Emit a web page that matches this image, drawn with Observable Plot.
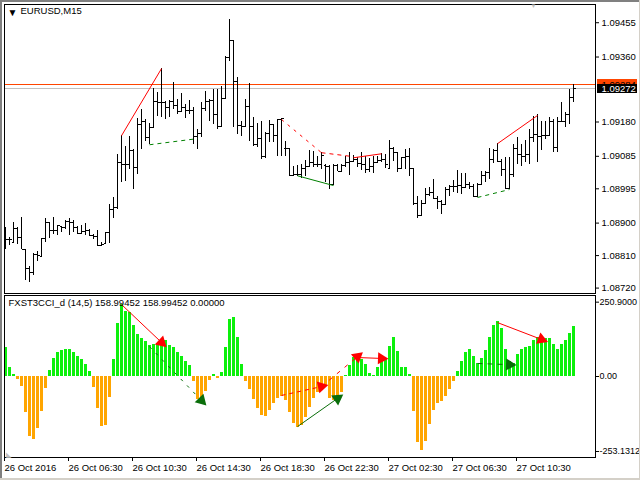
<!DOCTYPE html>
<html><head><meta charset="utf-8">
<script src="https://cdn.jsdelivr.net/npm/d3@7"></script>
<script src="https://cdn.jsdelivr.net/npm/@observablehq/plot@0.6"></script>
<style>
html,body{margin:0;padding:0;background:#fff;width:640px;height:480px;overflow:hidden}
#wrap{position:relative;width:640px;height:480px;overflow:hidden}
.edge{position:absolute}
</style></head><body><div id="wrap"></div>
<script>
// Prices are stored as points above 1.08000 (1 point = 0.00001)
const base = 1.08;
const highs = [
887,860,901,887,915,827,779,815,821,857,
912,901,915,893,890,907,912,907,890,893,
899,882,868,879,846,874,951,971,1090,1142,
1112,1139,1104,1189,1214,1187,1176,1272,1261,1328,
1236,1239,1289,1242,1259,1228,1239,1220,1159,1234,
1264,1242,1270,1270,1278,1361,1464,1403,1303,1181,
1242,1286,1192,1176,1181,1151,1184,1173,1187,1189,
1126,1106,1056,1059,1062,1073,1101,1098,1084,1095,
1062,1059,1062,1062,1062,1084,1095,1087,1081,1095,
1084,1079,1084,1084,1092,1090,1128,1109,1095,1081,
1104,1106,1051,973,962,995,998,1020,973,962,
998,1004,1018,1045,1037,1037,1012,1007,1009,1043,
1043,1106,1104,1120,1076,1081,1081,1117,1137,1117,
1128,1159,1195,1200,1181,1181,1192,1187,1192,1234,
1206,1270,1284];
const lows = [
827,838,843,840,827,741,735,754,793,807,
846,857,868,865,874,882,865,874,868,868,
865,863,854,835,835,840,843,912,937,1012,
1015,1048,993,1034,1104,1126,1117,1164,1195,1192,
1187,1192,1214,1200,1206,1189,1200,1117,1104,1137,
1209,1181,1173,1159,1167,1242,1347,1164,1145,1139,
1167,1126,1112,1109,1076,1079,1123,1123,1084,1084,
1084,1029,1029,1029,1023,1029,1054,1054,1054,1048,
1012,993,1004,1043,1040,1054,1031,1067,1054,1045,
1037,1040,1037,1067,1067,1051,1051,1070,1040,1048,
1048,1029,948,912,918,951,973,965,937,923,
951,973,984,982,979,995,993,971,971,1007,
1012,1020,1065,1067,1029,993,993,1026,1062,1056,
1067,1062,1123,1067,1101,1131,1139,1095,1095,1178,
1164,1173,1234];
const opens = [
854,854,846,885,860,827,774,763,813,807,
857,901,879,879,890,887,904,901,887,871,
876,879,865,863,838,843,874,937,943,1067,
1062,1062,1101,1054,1173,1181,1137,1164,1236,1234,
1234,1220,1236,1225,1209,1220,1212,1212,1139,1148,
1217,1236,1239,1200,1167,1245,1358,1405,1292,1170,
1167,1223,1167,1117,1134,1084,1148,1173,1142,1187,
1106,1106,1031,1034,1034,1051,1056,1067,1062,1062,
1059,1056,1007,1059,1043,1059,1067,1070,1076,1065,
1062,1048,1056,1067,1073,1076,1051,1106,1095,1051,
1081,1084,1051,954,921,954,979,984,968,960,
951,993,1001,1001,1004,998,1007,1001,973,1007,
1031,1040,1076,1101,1070,1048,995,1034,1106,1090,
1084,1090,1137,1145,1139,1142,1142,1181,1109,1181,
1181,1200,1248];
const closes = [
854,854,885,860,827,774,763,813,810,857,
901,879,879,893,887,904,901,887,871,876,
879,865,863,838,840,874,937,943,1067,1062,
1062,1101,1054,1173,1181,1137,1164,1236,1234,1234,
1220,1236,1225,1209,1220,1212,1212,1139,1148,1217,
1236,1239,1200,1167,1245,1358,1405,1292,1170,1167,
1223,1167,1117,1134,1084,1148,1173,1142,1187,1189,
1106,1031,1034,1034,1051,1056,1067,1062,1062,1087,
1056,1007,1059,1043,1059,1067,1070,1076,1065,1062,
1048,1056,1067,1073,1076,1062,1106,1095,1051,1081,
1084,1051,954,921,954,979,984,968,960,951,
993,1001,1001,1004,998,1007,1001,973,1007,1031,
1040,1076,1101,1070,1048,995,1034,1106,1090,1084,
1090,1137,1145,1139,1142,1142,1181,1109,1181,1181,
1200,1248,1272];
const cci = [
98,30,7,-10,-34,-121,-202,-212,-175,-118,
-40,20,61,81,88,91,91,81,67,57,
40,17,-37,-108,-169,-165,-71,57,179,243,
219,216,172,142,128,118,104,108,111,115,
121,104,98,81,67,51,37,-17,-78,-91,
-51,-13,7,-7,13,98,192,199,131,40,
-17,-44,-78,-108,-131,-135,-115,-91,-74,-67,
-81,-121,-158,-172,-165,-138,-104,-74,-54,-47,
-30,-74,-81,-84,-54,3,37,64,71,57,
40,10,3,30,64,61,101,131,84,30,
30,7,-118,-222,-249,-219,-162,-115,-91,-84,
-67,-44,-17,17,51,81,91,67,44,61,
88,131,172,185,162,91,51,44,74,91,
98,101,121,131,131,128,128,108,91,108,
121,145,169];

const priceTicks = [1.09455,1.09360,1.09180,1.09085,1.08995,1.08900,1.08810,1.08720];
const askPrice = 1.09284, bidPrice = 1.09272;
const timeTickBars = [0,16,32,48,64,80,96,112,128];
const timeLabels = ["26 Oct 2016","26 Oct 06:30","26 Oct 10:30","26 Oct 14:30","26 Oct 18:30","26 Oct 22:30","27 Oct 02:30","27 Oct 06:30","27 Oct 10:30"];
const cciTicks = [250.9,0,-253.1312];
const cciTickLabels = ["250.9000","0.00","-253.1312"];

// trend lines on the price panel: bar index and price
const priceTrends = [
 {x1:29,y1:1.09142,x2:39,y2:1.09328,c:"#ff0000",d:null},
 {x1:36,y1:1.09117,x2:48,y2:1.09134,c:"#008000",d:"4,4"},
 {x1:69,y1:1.09187,x2:79,y2:1.09095,c:"#ff0000",d:"3,5"},
 {x1:79,y1:1.09095,x2:87,y2:1.09084,c:"#ff0000",d:"4,4"},
 {x1:87,y1:1.09081,x2:94,y2:1.09092,c:"#ff0000",d:null},
 {x1:73,y1:1.09031,x2:82,y2:1.09004,c:"#008000",d:null},
 {x1:123,y1:1.09120,x2:133,y2:1.09198,c:"#ff0000",d:null},
 {x1:118,y1:1.08971,x2:126,y2:1.08993,c:"#008000",d:"4,4"}
];
// arrows on the oscillator panel: bar index and oscillator value
const darkGreen = "#0a6e0a";
const cciArrows = [
 {x1:29,y1:243,x2:39,y2:115,c:"#ff0000",d:null},
 {x1:36,y1:101,x2:49,y2:-81,c:darkGreen,d:"3,6"},
 {x1:69,y1:-64,x2:79,y2:-34,c:"#ff0000",d:"4,4"},
 {x1:79,y1:-34,x2:88,y2:67,c:"#ff0000",d:"4,6"},
 {x1:88,y1:64,x2:94,y2:61,c:"#ff0000",d:null},
 {x1:73,y1:-169,x2:83,y2:-74,c:darkGreen,d:null},
 {x1:123,y1:182,x2:134,y2:125,c:"#ff0000",d:null},
 {x1:118,y1:44,x2:126,y2:40,c:darkGreen,d:"5,5"}
];

const bars = highs.map((h,i)=>({i,h:base+h/1e5,l:base+lows[i]/1e5,o:base+opens[i]/1e5,c:base+closes[i]/1e5}));
const hist = cci.map((v,i)=>({i,v}));

const fontStyle = {fontFamily:"'Liberation Sans',Arial,sans-serif",fontSize:"9.5px",color:"#000",background:"#fff",position:"absolute",left:"0",overflow:"hidden"};
const xScale = {domain:[-0.25,147.5],axis:null};
const crisp = {shapeRendering:"crispEdges"};

// direction of an arrow head on screen: one bar is 4 wide, one oscillator unit about 0.296 tall
const headAngle = a => Math.atan2((a.x2-a.x1)*4,(a.y2-a.y1)*0.296)*180/Math.PI;

const pricePlot = Plot.plot({
  width:640,height:294,marginLeft:4,marginRight:45,marginTop:4,marginBottom:1,
  style:{...fontStyle,top:"0"},
  x:xScale,
  y:{domain:[1.08705,1.095055],axis:null},
  marks:[
    Plot.ruleY([bidPrice],{stroke:"#c0c0c0",...crisp}),
    Plot.ruleY([askPrice],{stroke:"#ff4500",...crisp}),
    Plot.ruleX(bars,{x:"i",y1:"l",y2:"h",stroke:"#000",...crisp}),
    Plot.link(bars,{x1:d=>d.i-0.5,x2:"i",y1:"o",y2:"o",stroke:"#000",...crisp}),
    Plot.link(bars,{x1:"i",x2:d=>d.i+0.5,y1:"c",y2:"c",stroke:"#000",...crisp}),
    ...priceTrends.map(t=>Plot.link([t],{x1:"x1",y1:"y1",x2:"x2",y2:"y2",stroke:"c",strokeWidth:1,strokeDasharray:t.d})),
    Plot.frame({stroke:"#000"}),
    Plot.axisY({anchor:"right",ticks:priceTicks,tickFormat:d3.format(".5f"),tickSize:3,tickPadding:3,label:null,stroke:"#000"}),
    Plot.ruleY([askPrice],{x1:148,x2:158,stroke:"#ff4500",strokeWidth:10,...crisp}),
    Plot.text([askPrice],{x:149,y:d=>d,text:d=>d.toFixed(5),textAnchor:"start",fill:"#000"}),
    Plot.ruleY([bidPrice],{x1:148,x2:158,stroke:"#000",strokeWidth:9,...crisp}),
    Plot.text([bidPrice],{x:149,y:d=>d,text:d=>d.toFixed(5),textAnchor:"start",fill:"#fff"}),
    Plot.text(["▼"],{frameAnchor:"top-left",dx:3,dy:4,fontSize:10,fill:"#000",textAnchor:"start"}),
    Plot.text(["EURUSD,M15"],{frameAnchor:"top-left",dx:16,dy:3,fill:"#000",textAnchor:"start"}),
    Plot.text(["▼"],{x:132,frameAnchor:"top",dy:-1,fontSize:6,fill:"#c0c0c0"})
  ]
});

const cciPlot = Plot.plot({
  width:640,height:186,marginLeft:4,marginRight:45,marginTop:1,marginBottom:23,
  style:{...fontStyle,top:"294px"},
  x:xScale,
  y:{domain:[-273.4,273.4],axis:null},
  marks:[
    Plot.ruleX(hist,{x:"i",y1:0,y2:"v",strokeWidth:3,stroke:d=>d.v>=0?"#0cf00c":"#ffa500",...crisp}),
    ...cciArrows.map(a=>Plot.link([a],{x1:"x1",y1:"y1",x2:"x2",y2:"y2",stroke:"c",strokeWidth:1,strokeDasharray:a.d})),
    ...cciArrows.map(a=>Plot.dot([a],{x:"x2",y:"y2",symbol:"triangle",r:4.5,fill:"c",stroke:"none",rotate:headAngle})),
    Plot.frame({stroke:"#000"}),
    Plot.axisY({anchor:"right",ticks:cciTicks,tickFormat:(d,i)=>cciTickLabels[i],tickSize:3,tickPadding:1,fontSize:9,label:null,stroke:"#000"}),
    Plot.axisX({anchor:"bottom",ticks:timeTickBars,tickFormat:(d,i)=>timeLabels[i],tickSize:4,tickPadding:3,textAnchor:"start",dx:-1,label:null,stroke:"#000"}),
    Plot.text(["FXST3CCI_d (14,5) 158.99452 158.99452 0.00000"],{frameAnchor:"top-left",dx:4,dy:4,fill:"#000",textAnchor:"start"}),
    Plot.text(["◣"],{frameAnchor:"bottom-left",dx:1,dy:-1,fontSize:7,fill:"#c0c0c0",textAnchor:"start"})
  ]
});

const wrap = document.getElementById("wrap");
wrap.append(pricePlot,cciPlot);
[["left:0;top:0;width:640px;height:2px;background:#808080"],
 ["left:0;top:0;width:2px;height:480px;background:#808080"],
 ["left:0;top:478px;width:640px;height:2px;background:#d4d0c8"],
 ["left:639px;top:0;width:1px;height:480px;background:#d4d0c8"]].forEach(([s])=>{
  const d=document.createElement("div");d.className="edge";d.style.cssText=s;wrap.append(d);
});
</script></body></html>
